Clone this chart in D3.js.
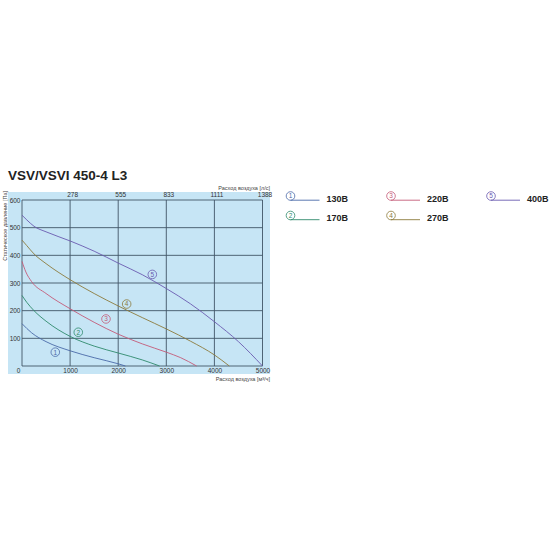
<!DOCTYPE html>
<html><head><meta charset="utf-8">
<script src="https://cdn.jsdelivr.net/npm/d3@7"></script>
<style>
html,body{margin:0;padding:0;background:#fff;}
svg{display:block;font-family:"Liberation Sans",Arial,sans-serif;}
</style></head>
<body>
<svg id="c" width="550" height="550"></svg>
<script>
// ---- data ----
const title = "VSV/VSVI 450-4 L3";
const xTicks = [1000, 2000, 3000, 4000, 5000];
const topTickLabels = ["278", "555", "833", "1111", "1388"];
const yTicks = [100, 200, 300, 400, 500, 600];
const seriesNames = ["130В", "170В", "220В", "270В", "400В"];
const seriesColors = ["#4a6aa8", "#2f8a6c", "#c45a78", "#8c7a3c", "#6a5ab0"];
const curve1 = [[0,153],[200,120],[500,88],[1000,55],[1500,30],[2000,8],[2150,0]];
const curve2 = [[0,255],[100,230],[250,200],[500,162],[1000,107],[1500,72],[2000,47],[2500,22],[2860,0]];
const curve3 = [[0,378],[80,340],[200,305],[500,262],[1000,207],[1500,158],[2000,115],[2500,80],[3000,50],[3300,30],[3630,0]];
const curve4 = [[0,455],[100,435],[250,405],[500,370],[1000,312],[1500,262],[2000,217],[2500,175],[3000,134],[3500,90],[4000,40],[4310,0]];
const curve5 = [[0,545],[100,528],[250,505],[500,485],[1000,452],[1500,415],[2000,372],[2500,330],[3000,280],[3500,225],[4000,160],[4500,88],[5000,0]];
const markerPos = [[692,50],[1170,122],[1746,170],[2176,224],[2709,331]];

const curves = [curve1, curve2, curve3, curve4, curve5];
const svg = d3.select("#c");
const x = d3.scaleLinear().domain([0, 5000]).range([22, 262.5]);
const y = d3.scaleLinear().domain([0, 600]).range([366, 200]);

// title
svg.append("text").attr("x", 8).attr("y", 180).attr("font-size", 13.5)
  .attr("font-weight", "bold").attr("fill", "#222").text(title);

// background
svg.append("rect").attr("x", 8).attr("y", 192).attr("width", 262).attr("height", 182).attr("fill", "#c6e5f5");

const gridColor = "#415566";
// grid
const g = svg.append("g");
g.selectAll("line.v").data(xTicks).join("line")
  .attr("x1", d => x(d)).attr("x2", d => x(d)).attr("y1", y(0)).attr("y2", y(600))
  .attr("stroke", gridColor).attr("stroke-width", 0.9);
g.selectAll("line.h").data(yTicks).join("line")
  .attr("x1", x(0)).attr("x2", x(5000)).attr("y1", d => y(d)).attr("y2", d => y(d))
  .attr("stroke", gridColor).attr("stroke-width", 0.9);
g.append("line").attr("x1", x(0)).attr("x2", x(0)).attr("y1", y(0)).attr("y2", y(600)).attr("stroke", gridColor).attr("stroke-width", 0.9);
g.append("line").attr("x1", x(0)).attr("x2", x(5000)).attr("y1", y(0)).attr("y2", y(0)).attr("stroke", gridColor).attr("stroke-width", 0.9);

// axes
const tickFont = 6.5, tickColor = "#333";
const ax = svg.append("g").attr("transform", `translate(0,${y(0) + 7})`)
  .call(d3.axisBottom(x).tickValues(xTicks).tickSize(0).tickPadding(0).tickFormat(d3.format("d")));
ax.select(".domain").remove();
ax.selectAll("text").attr("font-size", tickFont).attr("fill", tickColor).attr("font-family", null).attr("dy", "0");
const at = svg.append("g").attr("transform", `translate(2,${y(600) - 3.5})`)
  .call(d3.axisTop(x).tickValues(xTicks).tickSize(0).tickPadding(0).tickFormat((d, i) => topTickLabels[i]));
at.select(".domain").remove();
at.selectAll("text").attr("font-size", tickFont).attr("fill", tickColor).attr("font-family", null).attr("dy", "0");
const ay = svg.append("g").attr("transform", `translate(${x(0) - 1.5},0)`)
  .call(d3.axisLeft(y).tickValues(yTicks).tickSize(0).tickPadding(0).tickFormat(d3.format("d")));
ay.select(".domain").remove();
ay.selectAll("text").attr("font-size", tickFont).attr("fill", tickColor).attr("font-family", null).attr("dy", "0.35em");
svg.append("text").attr("x", 18.5).attr("y", y(0) + 7).attr("font-size", tickFont).attr("fill", tickColor)
  .attr("text-anchor", "middle").text("0");

// axis titles
svg.append("text").attr("x", 270).attr("y", 190).attr("text-anchor", "end").attr("font-size", 5.5).attr("fill", "#444").text("Расход воздуха [л/с]");
svg.append("text").attr("x", 270).attr("y", 381).attr("text-anchor", "end").attr("font-size", 5.5).attr("fill", "#444").text("Расход воздуха [м³/ч]");
svg.append("text").attr("transform", "translate(7,191) rotate(-90)").attr("text-anchor", "end").attr("font-size", 5.5).attr("fill", "#444").text("Статическое давление [Па]");

// curves
const line = d3.line().x(d => x(d[0])).y(d => y(d[1])).curve(d3.curveMonotoneX);
svg.append("g").selectAll("path").data(curves).join("path")
  .attr("d", line).attr("fill", "none").attr("stroke", (d, i) => seriesColors[i]).attr("stroke-width", 0.9);

// curve markers
function marker(sel, cx, cy, i) {
  sel.append("circle").attr("cx", cx).attr("cy", cy).attr("r", 4.3).attr("fill", "none")
    .attr("stroke", seriesColors[i]).attr("stroke-width", 0.8);
  sel.append("text").attr("x", cx).attr("y", cy).attr("dy", "0.36em").attr("text-anchor", "middle")
    .attr("font-size", 6.5).attr("fill", seriesColors[i]).text(i + 1);
}
markerPos.forEach((p, i) => marker(svg, x(p[0]), y(p[1]), i));

// legend
const legendCols = [290.5, 391, 491];
const legendRows = [196, 215.5];
seriesNames.forEach((name, i) => {
  const cx = legendCols[Math.floor(i / 2)], cy = legendRows[i % 2];
  const gl = svg.append("g");
  marker(gl, cx, cy, i);
  gl.append("line").attr("x1", cx).attr("x2", cx + 29).attr("y1", cy + 4.2).attr("y2", cy + 4.2)
    .attr("stroke", seriesColors[i]).attr("stroke-width", 0.9);
  gl.append("text").attr("x", cx + 36).attr("y", cy + 5.5).attr("font-size", 9).attr("font-weight", "bold")
    .attr("fill", "#222").text(name);
});
</script>
</body></html>
